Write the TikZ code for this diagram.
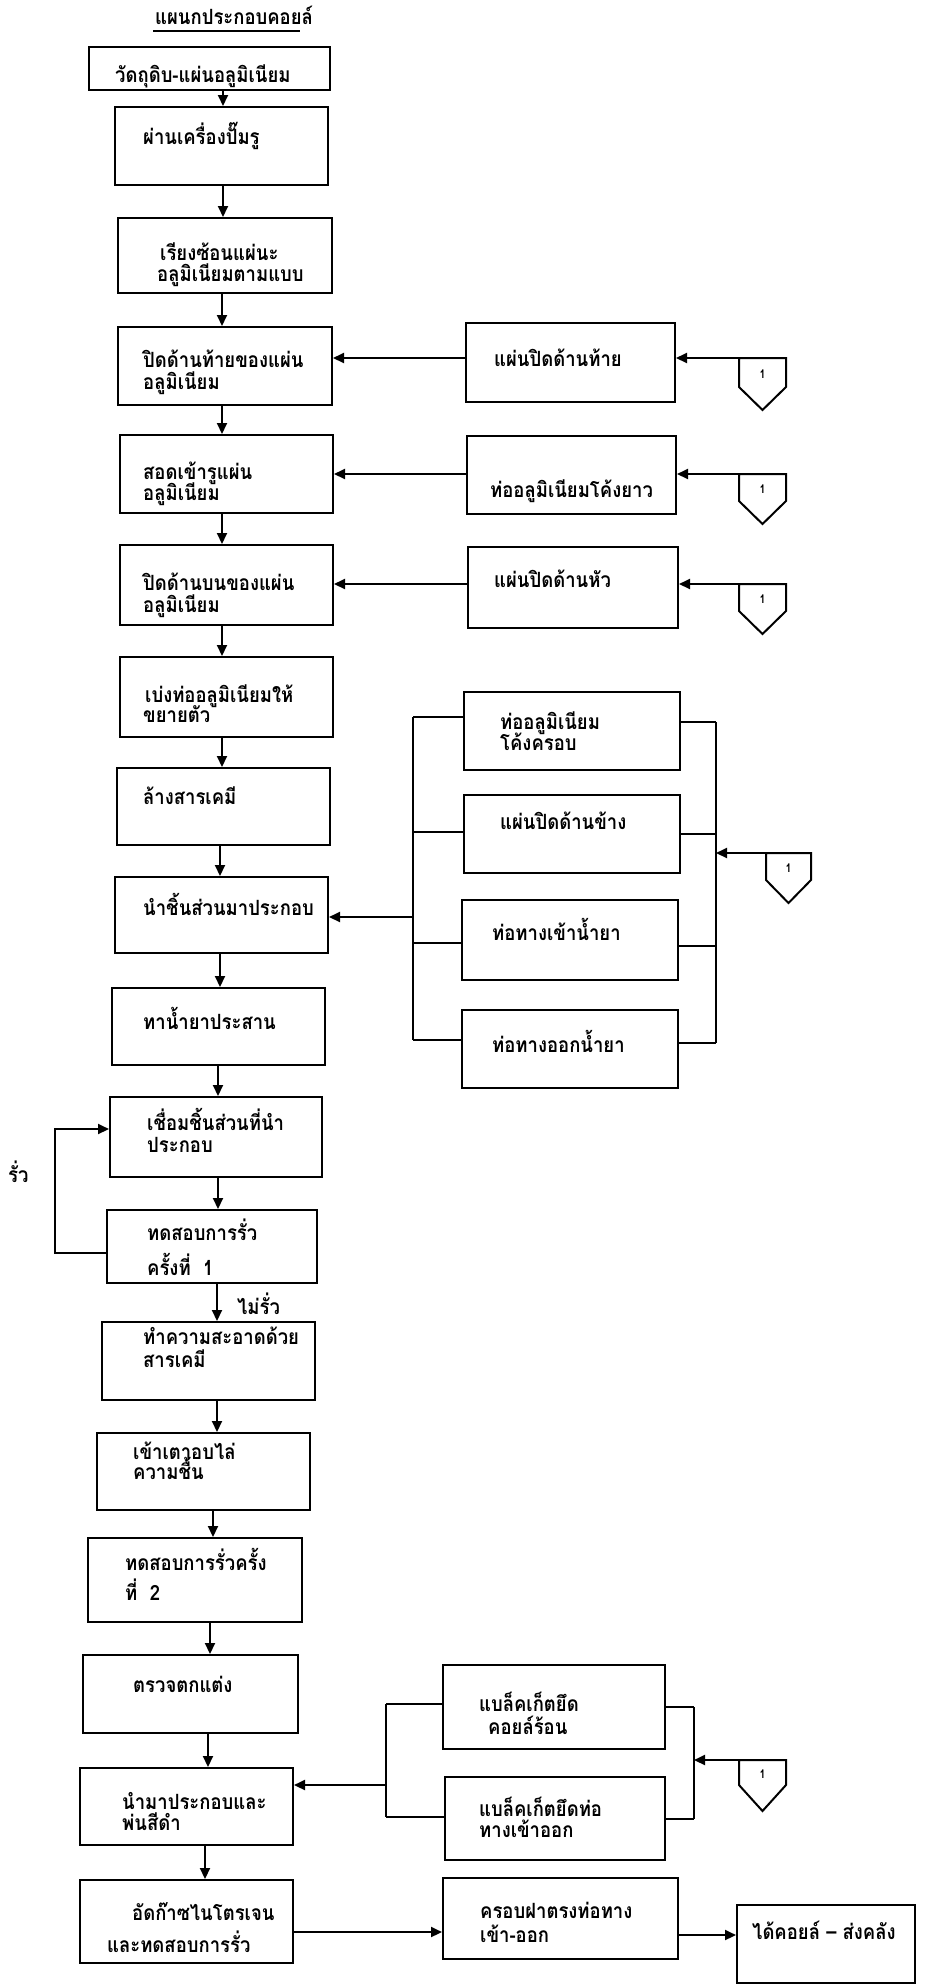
\documentclass[tikz,border=0pt]{standalone}
\usepackage{fontspec}
\setmainfont[Script=Thai,FakeStretch=0.88]{Loma}
\usetikzlibrary{arrows.meta,fit}
\newcommand{\mybox}[5]{\node[box, fit={(#2,#3) (#4,#5)}] (#1) {};}
\newcommand{\mytext}[4]{\node[txt] (#1) at (#2,#3) {#4};}
\newcommand{\mypent}[6]{%
  \draw[ln] (#2,#4) -- (#3,#4) -- (#3,#5) -- ({(#2+#3)/2},#6) -- (#2,#5) -- cycle;
  \coordinate (#1) at (#3,#4);
  \node[numtxt] (#1n) at ({(#2+#3)/2},{(#4+#5)/2+2}) {1};}
\begin{document}
\begin{tikzpicture}[x=1pt,y=-1pt,
  box/.style={draw, line width=2pt, inner sep=0pt},
  txt/.style={anchor=base west, inner sep=0pt, font=\fontsize{21}{24}\selectfont\bfseries},
  numtxt/.style={inner sep=0pt, font=\fontsize{12}{14}\selectfont\bfseries},
  ln/.style={line width=2pt},
  arr/.style={line width=2pt, -{Triangle[length=11pt,width=10pt]}}]
\useasboundingbox (0,0) rectangle (935,1987);
\fill[white] (0,0) rectangle (935,1987);
% title
\mytext{title}{155}{24}{แผนกประกอบคอยล์}
\draw[line width=2.2pt] (153,31) -- (300,31);
% main column boxes
\mybox{B1}{89}{47}{330}{90}
\mybox{B2}{115}{107}{328}{185}
\mybox{B3}{118}{218}{332}{293}
\mybox{B4}{118}{327}{332}{405}
\mybox{B5}{120}{435}{333}{513}
\mybox{B6}{120}{545}{333}{625}
\mybox{B7}{120}{657}{333}{737}
\mybox{B8}{117}{768}{330}{845}
\mybox{B9}{115}{877}{328}{953}
\mybox{B10}{112}{988}{325}{1065}
\mybox{B11}{110}{1097}{322}{1177}
\mybox{B12}{107}{1210}{317}{1283}
\mybox{B13}{102}{1322}{315}{1400}
\mybox{B14}{97}{1433}{310}{1510}
\mybox{B15}{88}{1538}{302}{1622}
\mybox{B16}{83}{1655}{298}{1733}
\mybox{B17}{80}{1768}{293}{1845}
\mybox{B18}{80}{1880}{293}{1963}
% main texts
\mytext{t1}{115}{82}{วัดถุดิบ-แผ่นอลูมิเนียม}
\mytext{t2}{143}{144}{ผ่านเครื่องปั๊มรู}
\mytext{t3a}{160}{260}{เรียงซ้อนแผ่นะ}
\mytext{t3b}{157}{281}{อลูมิเนียมตามแบบ}
\mytext{t4a}{143}{367}{ปิดด้านท้ายของแผ่น}
\mytext{t4b}{143}{389}{อลูมิเนียม}
\mytext{t5a}{143}{479}{สอดเข้ารูแผ่น}
\mytext{t5b}{143}{500}{อลูมิเนียม}
\mytext{t6a}{143}{590}{ปิดด้านบนของแผ่น}
\mytext{t6b}{143}{612}{อลูมิเนียม}
\mytext{t7a}{145}{702}{เบ่งท่ออลูมิเนียมให้}
\mytext{t7b}{143}{722}{ขยายตัว}
\mytext{t8}{143}{804}{ล้างสารเคมี}
\mytext{t9}{143}{915}{นำชิ้นส่วนมาประกอบ}
\mytext{t10}{143}{1029}{ทาน้ำยาประสาน}
\mytext{t11a}{147}{1130}{เชื่อมชิ้นส่วนที่นำ}
\mytext{t11b}{147}{1152}{ประกอบ}
\mytext{t12a}{147}{1240}{ทดสอบการรั่ว}
\mytext{t12b}{147}{1275}{ครั้งที่\ \ 1}
\mytext{t13a}{143}{1344}{ทำความสะอาดด้วย}
\mytext{t13b}{143}{1367}{สารเคมี}
\mytext{t14a}{133}{1459}{เข้าเตาอบไล่}
\mytext{t14b}{133}{1479}{ความชื้น}
\mytext{t15a}{125}{1570}{ทดสอบการรั่วครั้ง}
\mytext{t15b}{125}{1600}{ที่\ \ 2}
\mytext{t16}{133}{1692}{ตรวจตกแต่ง}
\mytext{t17a}{122}{1809}{นำมาประกอบและ}
\mytext{t17b}{122}{1830}{พ่นสีดำ}
\mytext{t18a}{132}{1920}{อัดก๊าซไนโตรเจน}
\mytext{t18b}{107}{1952}{และทดสอบการรั่ว}
% vertical arrow x positions
\coordinate (v1) at (223,0);
\coordinate (v2) at (222,0);
\coordinate (v3) at (220,0);
\coordinate (v4) at (218,0);
\coordinate (v5) at (217,0);
\coordinate (v6) at (213,0);
\coordinate (v7) at (210,0);
\coordinate (v8) at (208,0);
\coordinate (v9) at (205,0);
\draw[arr] (B1.south -| v1) -- (B2.north -| v1);
\draw[arr] (B2.south -| v1) -- (B3.north -| v1);
\draw[arr] (B3.south -| v2) -- (B4.north -| v2);
\draw[arr] (B4.south -| v2) -- (B5.north -| v2);
\draw[arr] (B5.south -| v2) -- (B6.north -| v2);
\draw[arr] (B6.south -| v2) -- (B7.north -| v2);
\draw[arr] (B7.south -| v2) -- (B8.north -| v2);
\draw[arr] (B8.south -| v3) -- (B9.north -| v3);
\draw[arr] (B9.south -| v3) -- (B10.north -| v3);
\draw[arr] (B10.south -| v4) -- (B11.north -| v4);
\draw[arr] (B11.south -| v4) -- (B12.north -| v4);
\draw[arr] (B12.south -| v5) -- (B13.north -| v5);
\draw[arr] (B13.south -| v5) -- (B14.north -| v5);
\draw[arr] (B14.south -| v6) -- (B15.north -| v6);
\draw[arr] (B15.south -| v7) -- (B16.north -| v7);
\draw[arr] (B16.south -| v8) -- (B17.north -| v8);
\draw[arr] (B17.south -| v9) -- (B18.north -| v9);
% leak loop
\coordinate (lpout) at (55,1253);
\coordinate (lpin) at (55,1129);
\draw[arr] (B12.west |- lpout) -- (lpout) -- (lpin) -- (B11.west |- lpin);
\mytext{leak}{8}{1182}{รั่ว}
\mytext{noleak}{237}{1314}{ไม่รั่ว}
% right side single inputs
\mybox{R1}{466}{323}{675}{402}
\mybox{R2}{467}{436}{676}{514}
\mybox{R3}{468}{547}{678}{628}
\mytext{r1}{494}{366}{แผ่นปิดด้านท้าย}
\mytext{r2}{490}{497}{ท่ออลูมิเนียมโค้งยาว}
\mytext{r3}{494}{587}{แผ่นปิดด้านหัว}
\coordinate (h4) at (0,358);
\coordinate (h5) at (0,474);
\coordinate (h6) at (0,584);
\draw[arr] (R1.west |- h4) -- (B4.east |- h4);
\draw[arr] (R2.west |- h5) -- (B5.east |- h5);
\draw[arr] (R3.west |- h6) -- (B6.east |- h6);
\mypent{P1}{739}{786}{358}{387}{410}
\mypent{P2}{739}{786}{474}{501}{524}
\mypent{P3}{739}{786}{584}{611}{634}
\draw[arr] (P1) -- (R1.east |- P1);
\draw[arr] (P2) -- (R2.east |- P2);
\draw[arr] (P3) -- (R3.east |- P3);
% group of four
\mybox{G1}{464}{692}{680}{770}
\mybox{G2}{464}{795}{680}{873}
\mybox{G3}{462}{900}{678}{980}
\mybox{G4}{462}{1010}{678}{1088}
\mytext{g1a}{500}{729}{ท่ออลูมิเนียม}
\mytext{g1b}{500}{750}{โค้งครอบ}
\mytext{g2}{500}{829}{แผ่นปิดด้านข้าง}
\mytext{g3}{492}{940}{ท่อทางเข้าน้ำยา}
\mytext{g4}{492}{1052}{ท่อทางออกน้ำยา}
\coordinate (gl1) at (413,717);
\coordinate (gl2) at (413,832);
\coordinate (gl3) at (413,943);
\coordinate (gl4) at (413,1040);
\coordinate (glm) at (413,917);
\coordinate (gr1) at (716,722);
\coordinate (gr2) at (716,834);
\coordinate (gr3) at (716,946);
\coordinate (gr4) at (716,1043);
\draw[ln] (gl1) -- (gl4);
\draw[ln] (gr1) -- (gr4);
\draw[ln] (gl1) -- (G1.west |- gl1);
\draw[ln] (gl2) -- (G2.west |- gl2);
\draw[ln] (gl3) -- (G3.west |- gl3);
\draw[ln] (gl4) -- (G4.west |- gl4);
\draw[ln] (G1.east |- gr1) -- (gr1);
\draw[ln] (G2.east |- gr2) -- (gr2);
\draw[ln] (G3.east |- gr3) -- (gr3);
\draw[ln] (G4.east |- gr4) -- (gr4);
\draw[arr] (glm) -- (B9.east |- glm);
\mypent{P4}{766}{811}{853}{880}{903}
\draw[arr] (P4) -- (gr1 |- P4);
% bottom group
\mybox{BB1}{443}{1665}{665}{1749}
\mybox{BB2}{445}{1777}{665}{1860}
\mytext{bb1a}{479}{1711}{แบล็คเก็ตยึด}
\mytext{bb1b}{488}{1734}{คอยล์ร้อน}
\mytext{bb2a}{479}{1816}{แบล็คเก็ตยึดท่อ}
\mytext{bb2b}{479}{1837}{ทางเข้าออก}
\coordinate (bl1) at (386,1704);
\coordinate (bl2) at (386,1817);
\coordinate (blm) at (386,1785);
\coordinate (br1) at (694,1707);
\coordinate (br2) at (694,1819);
\draw[ln] (bl1) -- (bl2);
\draw[ln] (br1) -- (br2);
\draw[ln] (bl1) -- (BB1.west |- bl1);
\draw[ln] (bl2) -- (BB2.west |- bl2);
\draw[ln] (BB1.east |- br1) -- (br1);
\draw[ln] (BB2.east |- br2) -- (br2);
\draw[arr] (blm) -- (B17.east |- blm);
\mypent{P5}{739}{786}{1760}{1785}{1811}
\draw[arr] (P5) -- (br1 |- P5);
% bottom row
\mybox{KF}{443}{1878}{678}{1959}
\mybox{DK}{737}{1905}{915}{1983}
\mytext{kfa}{480}{1918}{ครอบฝาตรงท่อทาง}
\mytext{kfb}{480}{1942}{เข้า-ออก}
\mytext{dk}{752}{1939}{ได้คอยล์ – ส่งคลัง}
\coordinate (hb1) at (0,1932);
\coordinate (hb2) at (0,1935);
\draw[arr] (B18.east |- hb1) -- (KF.west |- hb1);
\draw[arr] (KF.east |- hb2) -- (DK.west |- hb2);
\end{tikzpicture}
\end{document}
